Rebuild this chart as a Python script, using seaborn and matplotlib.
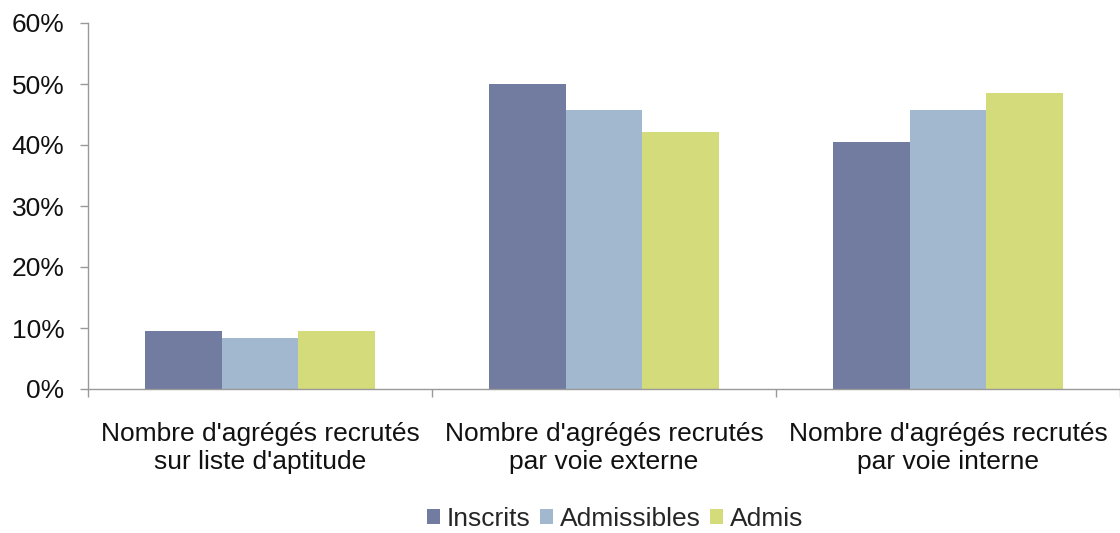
import pandas as pd
import matplotlib.pyplot as plt
import seaborn as sns
from matplotlib.ticker import FixedLocator, PercentFormatter

categories = [
    "Nombre d'agrégés recrutés\nsur liste d'aptitude",
    "Nombre d'agrégés recrutés\npar voie externe",
    "Nombre d'agrégés recrutés\npar voie interne",
]
series = ["Inscrits", "Admissibles", "Admis"]
inscrits = [9.5, 50.0, 40.5]
admissibles = [8.4, 45.8, 45.8]
admis = [9.5, 42.2, 48.5]
colors = ["#727CA1", "#A2B8CF", "#D4DB7A"]

df = pd.DataFrame({
    "cat": categories * 3,
    "serie": [s for s in series for _ in categories],
    "val": inscrits + admissibles + admis,
})

sns.set_style("white")
plt.rcParams["font.family"] = ["Liberation Sans", "DejaVu Sans"]

fig = plt.figure(figsize=(11.2, 5.33), dpi=100)
ax = fig.add_axes([88 / 1120, 1 - 389 / 533, 1 - 88 / 1120, (389 - 23) / 533])

sns.barplot(data=df, x="cat", y="val", hue="serie", order=categories,
            hue_order=series, palette=colors, width=0.667, gap=0,
            saturation=1, linewidth=0, ax=ax)

ax.set_xlim(-0.5, 2.5)
ax.set_ylim(0, 60)
ax.set_yticks(range(0, 61, 10))
ax.yaxis.set_major_formatter(PercentFormatter(decimals=0))
ax.set_xlabel("")
ax.set_ylabel("")

fs = 19
ax.xaxis.set_minor_locator(FixedLocator([-0.5, 0.5, 1.5, 2.5]))
ax.tick_params(axis="x", which="major", length=0, pad=24, labelsize=fs,
               labelcolor="#111111")
ax.tick_params(axis="x", which="minor", length=6, width=1, color="#999999",
               bottom=True)
ax.tick_params(axis="y", length=6, width=1, color="#999999", left=True,
               labelsize=fs, labelcolor="#111111", pad=11)
for lbl in ax.get_xticklabels():
    lbl.set_linespacing(1.2)

for s in ["top", "right"]:
    ax.spines[s].set_visible(False)
for s in ["left", "bottom"]:
    ax.spines[s].set_color("#999999")
    ax.spines[s].set_linewidth(1)

ax.legend(loc="center", bbox_to_anchor=(0.5 + 11 / 1032, -0.355),
          ncol=3, frameon=False, fontsize=fs, handlelength=0.5,
          handleheight=0.5, handletextpad=0.25, columnspacing=0.35,
          borderaxespad=0, borderpad=0)

fig.savefig("out.png", dpi=100)
